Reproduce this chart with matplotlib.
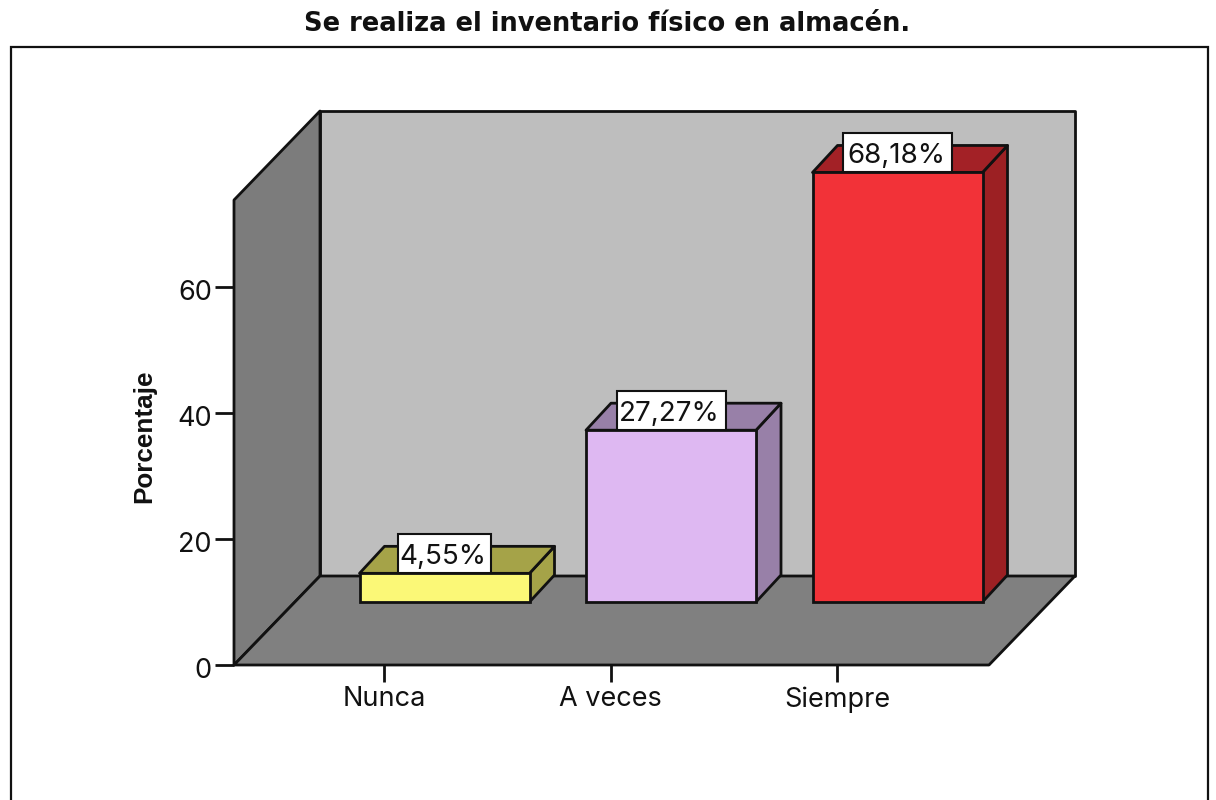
import matplotlib
matplotlib.use("Agg")
import matplotlib.pyplot as plt
from matplotlib.patches import Polygon, Rectangle
from matplotlib.transforms import ScaledTranslation

plt.rcParams['font.family'] = ['Inter', 'Liberation Sans', 'DejaVu Sans']

categories = ["Nunca", "A veces", "Siempre"]
percentages = [4.55, 27.27, 68.18]
value_labels = ["4,55%", "27,27%", "68,18%"]
y_ticks = [0, 20, 40, 60]
title_text = "Se realiza el inventario físico en almacén."
y_label = "Porcentaje"
front_colors = ["#FBF877", "#DEB8F2", "#F23238"]
side_colors = ["#A5A348", "#9880A8", "#9C2023"]
top_colors = ["#A5A348", "#9880A8", "#A32126"]

W, H = 1216, 800
PX_PER_CAT = 226.5
PX_PER_UNIT = 6.3
LW = 2.0
EDGE = "#111111"

fig = plt.figure(figsize=(W / 100, H / 100), dpi=100, facecolor="white")
left, right, top, bottom = 234, 989, 200, 665
ax = fig.add_axes([left / W, 1 - bottom / H, (right - left) / W, (bottom - top) / H])
ax.set_xlim((left - 384) / PX_PER_CAT, (right - 384) / PX_PER_CAT)
ax.set_ylim(0, (bottom - top) / PX_PER_UNIT)
ax.patch.set_visible(False)
for s in ax.spines.values():
    s.set_visible(False)

def dx(p):
    return p / PX_PER_CAT

def dy(p):
    return p / PX_PER_UNIT

xl, xr = ax.get_xlim()
yt = ax.get_ylim()[1]
wall_dx, wall_dy = dx(86), dy(89)
poly = dict(closed=True, edgecolor=EDGE, linewidth=LW, clip_on=False, joinstyle="round")

# outer frame, running past the bottom of the picture
fig.add_artist(Rectangle((10.5 / W, -0.05), 1197.5 / W, 1.05 - 46.5 / H, transform=fig.transFigure,
                         facecolor="none", edgecolor=EDGE, linewidth=1.6))

# walls and floor
ax.add_patch(Polygon([(xl + wall_dx, wall_dy), (xr + wall_dx, wall_dy),
                      (xr + wall_dx, yt + wall_dy), (xl + wall_dx, yt + wall_dy)],
                     facecolor="#BEBEBE", **poly))
ax.add_patch(Polygon([(xl, 0), (xl + wall_dx, wall_dy), (xl + wall_dx, yt + wall_dy), (xl, yt)],
                     facecolor="#7C7C7C", **poly))
ax.add_patch(Polygon([(xl, 0), (xr, 0), (xr + wall_dx, wall_dy), (xl + wall_dx, wall_dy)],
                     facecolor="#808080", **poly))

# bars
bar_shift = dx(60.5)
bar_w = dx(170)
bar_base = dy(63)
depth_x, depth_y = dx(25), dy(27)
box_w = [93, 109, 109]
for i, (v, fc, sc, tc, lab) in enumerate(zip(percentages, front_colors, side_colors, top_colors, value_labels)):
    x0 = i + bar_shift - bar_w / 2
    x1 = x0 + bar_w
    y1 = bar_base + v
    ax.add_patch(Polygon([(x1, bar_base), (x1 + depth_x, bar_base + depth_y),
                          (x1 + depth_x, y1 + depth_y), (x1, y1)], facecolor=sc, **poly))
    ax.add_patch(Polygon([(x0, y1), (x1, y1), (x1 + depth_x, y1 + depth_y), (x0 + depth_x, y1 + depth_y)],
                         facecolor=tc, **poly))
    ax.bar(i + bar_shift, v, width=bar_w, bottom=bar_base, color=fc, edgecolor=EDGE, linewidth=LW,
           clip_on=False, zorder=2)
    cx = x0 + dx(85)
    ax.add_patch(Rectangle((cx - dx(box_w[i] / 2), y1), dx(box_w[i]), dy(39), facecolor="white",
                           edgecolor=EDGE, linewidth=1.5, clip_on=False, zorder=3))
    ax.text(cx - dx(1.5), y1 + dy(19), lab, ha="center", va="center_baseline", fontsize=20, color="#111111", zorder=4)

ax.set_xticks(range(len(categories)), categories)
ax.set_yticks(y_ticks)
ax.tick_params(axis="y", length=14, width=LW, color=EDGE, labelsize=19.5, labelcolor="#111111", pad=2)
ax.tick_params(axis="x", length=12.2, width=LW, color=EDGE, labelsize=19.5, labelcolor="#111111", pad=3)
shift = ScaledTranslation(0, -2 / 72, fig.dpi_scale_trans)
for lab in ax.get_yticklabels():
    lab.set_transform(lab.get_transform() + shift)

fig.text(607.5 / W, 1 - 24 / H, title_text, ha="center", va="center", fontsize=18.5, fontweight="bold",
         color="#111111", family=["DejaVu Sans"])
fig.text(144 / W, 1 - 436 / H, y_label, ha="center", va="center", rotation=90, fontsize=18.8,
         fontweight="bold", color="#111111", family=["Liberation Sans"])

fig.savefig("out.png", dpi=100, facecolor="white")
